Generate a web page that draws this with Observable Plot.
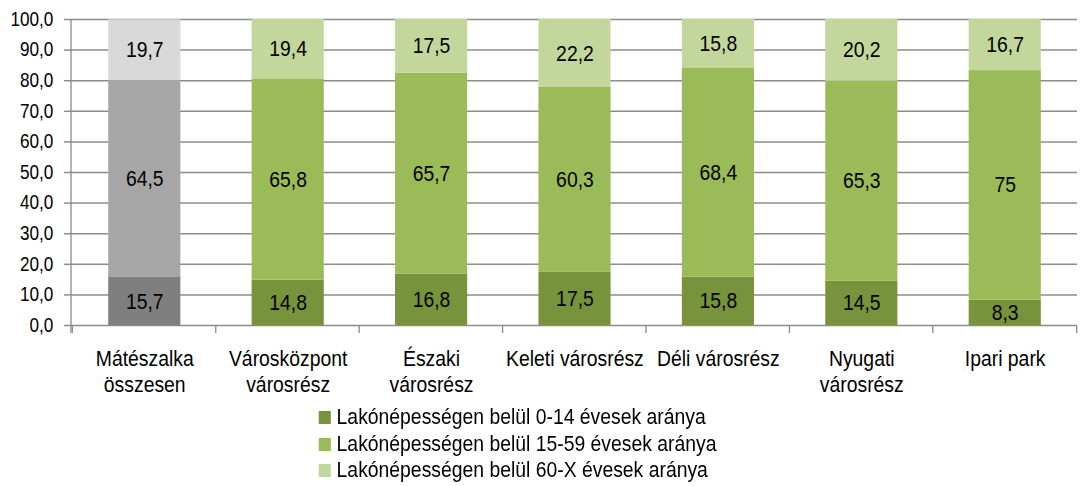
<!DOCTYPE html>
<html><head><meta charset="utf-8">
<script src="https://cdn.jsdelivr.net/npm/d3@7"></script>
<script src="https://cdn.jsdelivr.net/npm/@observablehq/plot@0.6"></script>
<style>
html,body{margin:0;padding:0;background:#fff;overflow:hidden;}
#wrap{width:1231px;transform:scaleX(0.8798);transform-origin:0 0;font-family:"Liberation Sans",Arial,sans-serif;}
.legend{padding-top:4px;padding-left:362px;font-size:22px;line-height:26.7px;color:#000;}
.legend .row{display:flex;align-items:center;}
.legend .sw{width:13.6px;height:13px;margin-right:7px;flex:none;}
</style></head><body><div id="wrap"></div>
<script>
const categories = ["Mátészalka\nösszesen", "Városközpont\nvárosrész", "Északi\nvárosrész", "Keleti városrész", "Déli városrész", "Nyugati\nvárosrész", "Ipari park"];
const seriesNames = ["Lakónépességen belül 0-14 évesek aránya", "Lakónépességen belül 15-59 évesek aránya", "Lakónépességen belül 60-X évesek aránya"];
const age0_14 = [15.7, 14.8, 16.8, 17.5, 15.8, 14.5, 8.3];
const age15_59 = [64.5, 65.8, 65.7, 60.3, 68.4, 65.3, 75];
const age60x = [19.7, 19.4, 17.5, 22.2, 15.8, 20.2, 16.7];
const yTicks = [0, 10, 20, 30, 40, 50, 60, 70, 80, 90, 100];
const greenColors = ["#77933c", "#9bbb59", "#c3d69b"];
const grayColors = ["#7f7f7f", "#a6a6a6", "#d9d9d9"];

const seriesValues = [age0_14, age15_59, age60x];
const rows = [];
categories.forEach((c, i) => {
  seriesValues.forEach((vals, j) => {
    rows.push({category: c, s: j, value: vals[i], color: (i === 0 ? grayColors : greenColors)[j]});
  });
});
const fmt = v => String(v).replace(".", ",");
const lineColor = "#8c8c8c";

function axisLines(index, scales, values, dims) {
  const {x, y} = scales;
  const g = d3.create("svg:g").attr("stroke", lineColor).attr("stroke-width", 1.5).attr("fill", "none");
  const step = x.step(), pi = x.paddingInner();
  const y0 = y(0), yTop = y(100);
  const dom = x.domain();
  const left = dims.marginLeft;
  g.append("line").attr("x1", left).attr("x2", left).attr("y1", yTop).attr("y2", y0 + 8);
  const bounds = dom.map(c => x(c) - pi * step / 2);
  bounds.push(x(dom[dom.length - 1]) + x.bandwidth() + pi * step / 2);
  bounds.forEach(b => g.append("line").attr("x1", b).attr("x2", b).attr("y1", y0).attr("y2", y0 + 8));
  return g.node();
}

const plot = Plot.plot({
  width: 1231, height: 400,
  marginLeft: 80.7, marginRight: 6.8, marginTop: 19, marginBottom: 75,
  style: {fontFamily: '"Liberation Sans", Arial, sans-serif', color: "#000", background: "#fff"},
  x: {domain: categories, paddingInner: 0.5, paddingOuter: 0.25},
  y: {domain: [0, 100]},
  color: {type: "identity"},
  marks: [
    Plot.gridY(yTicks, {stroke: lineColor, strokeOpacity: 1, strokeWidth: 1.5}),
    Plot.barY(rows, Plot.stackY({x: "category", y: "value", z: "s", fill: "color"})),
    Plot.text(rows, Plot.stackY({x: "category", y: "value", z: "s", text: d => fmt(d.value), fill: "#000", fontSize: 22})),
    axisLines,
    Plot.axisY(yTicks, {tickSize: 8, tickPadding: 12.5, tickFormat: d => d.toFixed(1).replace(".", ","), stroke: lineColor, strokeWidth: 1.5, fill: "#000", fontSize: 19.5, label: null}),
    Plot.axisX({tickSize: 0, tickPadding: 23, lineHeight: 1.15, fontSize: 22, fill: "#000", label: null})
  ]
});
const wrap = document.getElementById("wrap");
wrap.appendChild(plot);

const legend = document.createElement("div");
legend.className = "legend";
seriesNames.forEach((name, j) => {
  const row = document.createElement("div");
  row.className = "row";
  const sw = document.createElement("span");
  sw.className = "sw";
  sw.style.background = greenColors[j];
  const t = document.createElement("span");
  t.textContent = name;
  row.appendChild(sw); row.appendChild(t);
  legend.appendChild(row);
});
wrap.appendChild(legend);
</script>
</body></html>
